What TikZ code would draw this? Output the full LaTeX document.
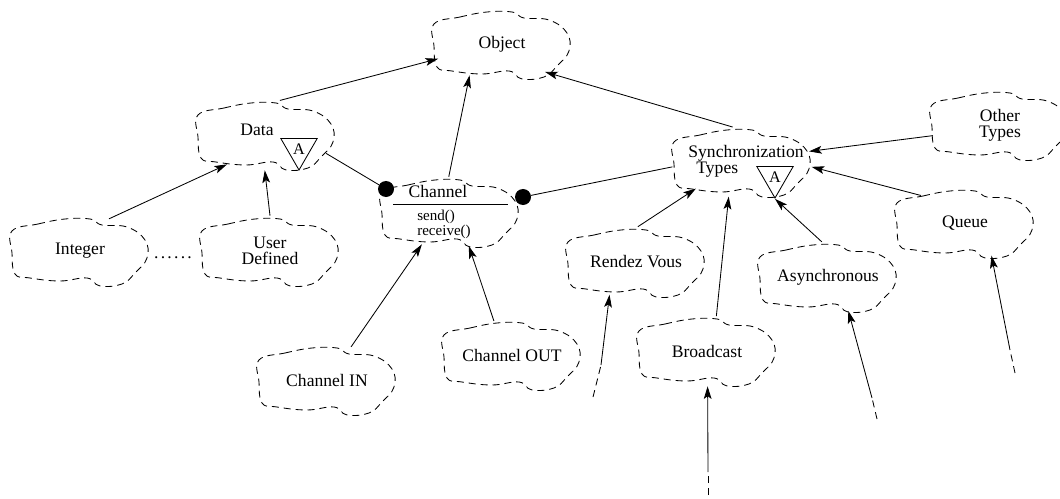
\documentclass[tikz,border=0pt]{standalone}
\usepackage{fontspec}
\setmainfont{Liberation Serif}
\usetikzlibrary{arrows.meta,shapes.geometric}

\begin{document}
\begin{tikzpicture}[x=0.025cm,y=-0.025cm,
    cloudline/.style={dash pattern=on 5pt off 3.5pt,line width=0.6pt},
    bcloud/.style={ellipse,minimum width=3.5cm,minimum height=1.75cm,inner sep=0pt,
      align=center,font=\fontsize{12.5}{11.5}\selectfont},
    txt/.style={inner sep=0pt,font=\fontsize{12.5}{11.5}\selectfont},
    ops/.style={inner sep=0pt,align=left,font=\fontsize{10.7}{10.7}\selectfont},
    abstr/.style={draw,regular polygon,regular polygon sides=3,shape border rotate=180,
      minimum size=1.05cm,inner sep=0pt,line width=0.6pt,font=\fontsize{11.5}{11.5}\selectfont},
    blob/.style={circle,fill,minimum size=0.4cm,inner sep=0pt},
    link/.style={line width=0.6pt},
    inherit/.style={link,-{Stealth[length=9pt,width=5.5pt,inset=2pt]}}]
  \useasboundingbox (0,0) rectangle (1060,499);

  \node[bcloud] (object) at (502,44) {Object};
  \node[bcloud] (data) at (266,135) {};
  \node[bcloud] (channel) at (450,212) {};
  \node[bcloud] (sync) at (742,162) {};
  \node[bcloud] (other) at (1000,125) {Other\\Types};
  \node[bcloud] (queue) at (965,223) {Queue};
  \node[bcloud] (integer) at (80,251) {Integer};
  \node[bcloud] (userdef) at (270,251) {User\\Defined};
  \node[bcloud] (rendez) at (636,262) {Rendez Vous};
  \node[bcloud] (async) at (828,277) {Asynchronous};
  \node[bcloud] (broadcast) at (707,351) {Broadcast};
  \node[bcloud] (chin) at (327,380) {Channel IN};
  \node[bcloud] (chout) at (512,355) {Channel OUT};

  \foreach \c in {object,data,channel,sync,other,queue,integer,userdef,rendez,async,broadcast,chin,chout}
    \draw[cloudline,shift={(\c.center)}] plot[smooth cycle,tension=0.7] coordinates
      {(-68,-20) (-42,-27) (-15,-32) (10,-32) (22,-26) (47,-24) (65,-11) (67,7)
       (55,22) (42,33) (20,35) (7,27) (-20,30) (-50,27) (-65,23) (-68,2)};

  \node[txt] (dataname) at (257,130) {Data};
  \node[abstr] (dataA) at (299,149) {A};
  \node[txt,align=left] (syncname) at (746,161) {Synchronization\\\hspace*{0.2cm}Types};
  \node[abstr] (syncA) at (775,177) {A};
  \node[txt] (chname) at (438,191) {Channel};
  \draw[link] (393,204) -- (508,204);
  \node[ops,anchor=west] (chops) at (417,224) {send()\\receive()};
  \node[txt,anchor=base] (more) at (173,258) {.\kern1.6pt.\kern1.6pt.\kern1.6pt.\kern1.6pt.\kern1.6pt.};

  \node[blob] (dotl) at (386,189) {};
  \node[blob] (dotr) at (523,197) {};

  \draw[inherit] (data.68) -- (object.193);
  \draw[inherit] (channel.92) -- (object.224);
  \draw[inherit] (sync.105) -- (object.327);
  \draw[inherit] (integer.48) -- (data.217);
  \draw[inherit] (userdef.90) -- (data.268);
  \draw[link] (data.343) -- (dotl);
  \draw[link] (dotr) -- (sync.184);
  \draw[inherit] (rendez.87) -- (sync.210);
  \draw[inherit] (broadcast.75) -- (sync.249);
  \draw[inherit] (async.100) -- (syncA.corner 1);
  \draw[inherit] (other.189) -- (sync.9);
  \draw[inherit] (queue.148) -- (sync.356);
  \draw[inherit] (chin.54) -- (channel.229);
  \draw[inherit] (chout.118) -- (channel.299);

  \coordinate (rvtail) at (593,397);
  \coordinate (rvbreak) at (601,365);
  \coordinate (bctail) at (708,495);
  \coordinate (bcbreak) at (708,472);
  \coordinate (astail) at (877,419);
  \coordinate (asbreak) at (872,398);
  \coordinate (qutail) at (1015,373);
  \coordinate (qubreak) at (1010,350);
  \draw[cloudline] (rvtail) -- (rvbreak);
  \draw[inherit] (rvbreak) -- (rendez.231);
  \draw[cloudline] (bctail) -- (bcbreak);
  \draw[inherit] (bcbreak) -- (broadcast.271);
  \draw[cloudline] (astail) -- (asbreak);
  \draw[inherit] (asbreak) -- (async.301);
  \draw[cloudline] (qutail) -- (qubreak);
  \draw[inherit] (qubreak) -- (queue.309);
\end{tikzpicture}
\end{document}
